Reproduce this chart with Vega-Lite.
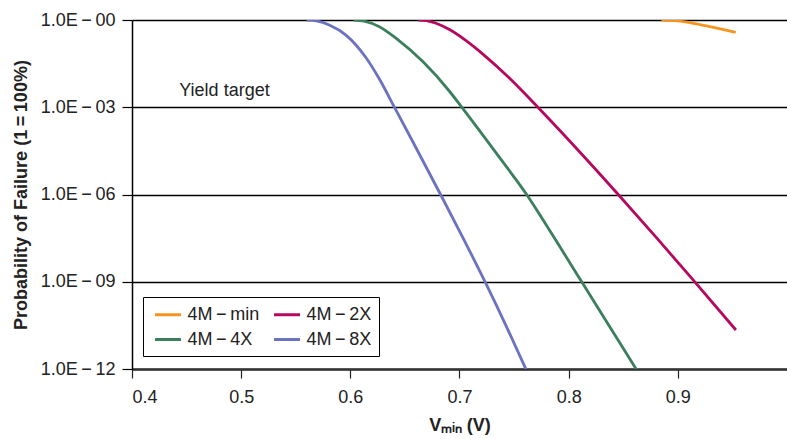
{
  "$schema": "https://vega.github.io/schema/vega-lite/v6.json",
  "width": 655,
  "height": 349,
  "autosize": {"type": "none"},
  "padding": {"left": 132, "top": 20, "right": 0, "bottom": 70},
  "background": "white",
  "config": {
    "view": {"stroke": null},
    "font": "Liberation Sans",
    "axis": {"labelFont": "Liberation Sans", "titleFont": "Liberation Sans", "labelFontSize": 18, "titleFontSize": 18, "labelColor": "#222", "titleColor": "#222", "titleFontWeight": "bold"}
  },
  "layer": [
    {
      "data": {
        "values": [
          {"series": "4M\u2009\u2212\u2009min", "v": 0.885, "p": 1},
          {"series": "4M\u2009\u2212\u2009min", "v": 0.897, "p": 0.944},
          {"series": "4M\u2009\u2212\u2009min", "v": 0.911, "p": 0.813},
          {"series": "4M\u2009\u2212\u2009min", "v": 0.9263, "p": 0.624},
          {"series": "4M\u2009\u2212\u2009min", "v": 0.94, "p": 0.484},
          {"series": "4M\u2009\u2212\u2009min", "v": 0.953, "p": 0.378},
          {"series": "4M\u2009\u2212\u20092X", "v": 0.6623, "p": 1},
          {"series": "4M\u2009\u2212\u20092X", "v": 0.6694, "p": 0.955},
          {"series": "4M\u2009\u2212\u20092X", "v": 0.6785, "p": 0.776},
          {"series": "4M\u2009\u2212\u20092X", "v": 0.6908, "p": 0.468},
          {"series": "4M\u2009\u2212\u20092X", "v": 0.706, "p": 0.195},
          {"series": "4M\u2009\u2212\u20092X", "v": 0.7214, "p": 0.0673},
          {"series": "4M\u2009\u2212\u20092X", "v": 0.7459, "p": 0.00989},
          {"series": "4M\u2009\u2212\u20092X", "v": 0.7718, "p": 0.000995},
          {"series": "4M\u2009\u2212\u20092X", "v": 0.8131, "p": 2.19e-5},
          {"series": "4M\u2009\u2212\u20092X", "v": 0.8452, "p": 1.02e-6},
          {"series": "4M\u2009\u2212\u20092X", "v": 0.881, "p": 3.09e-8},
          {"series": "4M\u2009\u2212\u20092X", "v": 0.9126, "p": 1.33e-9},
          {"series": "4M\u2009\u2212\u20092X", "v": 0.9532, "p": 2.19e-11},
          {"series": "4M\u2009\u2212\u20094X", "v": 0.603, "p": 1},
          {"series": "4M\u2009\u2212\u20094X", "v": 0.6128, "p": 0.912},
          {"series": "4M\u2009\u2212\u20094X", "v": 0.6266, "p": 0.589},
          {"series": "4M\u2009\u2212\u20094X", "v": 0.642, "p": 0.234},
          {"series": "4M\u2009\u2212\u20094X", "v": 0.6664, "p": 0.0372},
          {"series": "4M\u2009\u2212\u20094X", "v": 0.6908, "p": 0.00355},
          {"series": "4M\u2009\u2212\u20094X", "v": 0.7015, "p": 0.00107},
          {"series": "4M\u2009\u2212\u20094X", "v": 0.7306, "p": 3.8e-5},
          {"series": "4M\u2009\u2212\u20094X", "v": 0.75, "p": 3.98e-6},
          {"series": "4M\u2009\u2212\u20094X", "v": 0.7624, "p": 8.91e-7},
          {"series": "4M\u2009\u2212\u20094X", "v": 0.775, "p": 1.66e-7},
          {"series": "4M\u2009\u2212\u20094X", "v": 0.789, "p": 2.4e-8},
          {"series": "4M\u2009\u2212\u20094X", "v": 0.8131, "p": 8.51e-10},
          {"series": "4M\u2009\u2212\u20094X", "v": 0.8468, "p": 7.94e-12},
          {"series": "4M\u2009\u2212\u20094X", "v": 0.8636, "p": 7.76e-13},
          {"series": "4M\u2009\u2212\u20098X", "v": 0.56, "p": 1},
          {"series": "4M\u2009\u2212\u20098X", "v": 0.5688, "p": 0.933},
          {"series": "4M\u2009\u2212\u20098X", "v": 0.5807, "p": 0.676},
          {"series": "4M\u2009\u2212\u20098X", "v": 0.596, "p": 0.302},
          {"series": "4M\u2009\u2212\u20098X", "v": 0.6144, "p": 0.0501},
          {"series": "4M\u2009\u2212\u20098X", "v": 0.6266, "p": 0.00933},
          {"series": "4M\u2009\u2212\u20098X", "v": 0.6404, "p": 0.001},
          {"series": "4M\u2009\u2212\u20098X", "v": 0.657, "p": 6.76e-5},
          {"series": "4M\u2009\u2212\u20098X", "v": 0.6835, "p": 8.71e-7},
          {"series": "4M\u2009\u2212\u20098X", "v": 0.704, "p": 2.82e-8},
          {"series": "4M\u2009\u2212\u20098X", "v": 0.7248, "p": 7.76e-10},
          {"series": "4M\u2009\u2212\u20098X", "v": 0.743, "p": 2.88e-11},
          {"series": "4M\u2009\u2212\u20098X", "v": 0.7615, "p": 8.71e-13}
        ]
      },
      "mark": {"type": "line", "interpolate": "monotone", "strokeWidth": 2.8, "clip": true},
      "encoding": {
        "x": {
          "field": "v", "type": "quantitative",
          "scale": {"domain": [0.4, 1.0], "nice": false, "zero": false},
          "axis": {
            "values": [0.4, 0.5, 0.6, 0.7, 0.8, 0.9], "format": ".1f",
            "title": "V\u2098\u1d62\u2099 (V)",
            "domainColor": "#333", "domainWidth": 2.5,
            "tickColor": "#222", "tickWidth": 1.2, "tickSize": 9,
            "labelPadding": 10, "titlePadding": 10, "grid": false
          }
        },
        "y": {
          "field": "p", "type": "quantitative",
          "scale": {"type": "log", "domain": [1e-12, 1], "nice": false},
          "axis": {
            "values": [1e-12, 1e-9, 1e-6, 0.001, 1],
            "labelExpr": "'1.0E\u2009\u2212\u2009' + (datum.value >= 0.5 ? '00' : format(round(-log(datum.value)/LN10), '02d'))",
            "title": "Probability of Failure (1\u2009=\u2009100%)",
            "domainColor": "black", "domainWidth": 1.5,
            "tickColor": "black", "tickWidth": 1.2, "tickSize": 10,
            "labelPadding": 7, "titlePadding": 10,
            "grid": true, "gridColor": "black", "gridWidth": 1.4
          }
        },
        "color": {
          "field": "series", "type": "nominal",
          "scale": {
            "domain": ["4M\u2009\u2212\u2009min", "4M\u2009\u2212\u20092X", "4M\u2009\u2212\u20094X", "4M\u2009\u2212\u20098X"],
            "range": ["#f7941d", "#b5085e", "#3b7f5c", "#6c72c2"]
          },
          "legend": {
            "title": null, "orient": "none", "legendX": 11, "legendY": 277,
            "columns": 2, "direction": "horizontal",
            "symbolType": "M-1.5,0H1.5", "symbolSize": 300,
            "symbolStrokeWidth": 3, "symbolOffset": 7.5, "labelOffset": 9,
            "columnPadding": 8, "rowPadding": 5, "padding": 7,
            "strokeColor": "black", "fillColor": "white",
            "labelFontSize": 18, "labelColor": "#222", "labelFont": "Liberation Sans"
          }
        }
      }
    },
    {
      "data": {"values": [{"v": 0.4433, "p": 0.00249, "label": "Yield target"}]},
      "mark": {"type": "text", "align": "left", "baseline": "alphabetic", "fontSize": 18, "color": "#222", "font": "Liberation Sans"},
      "encoding": {
        "x": {"field": "v", "type": "quantitative"},
        "y": {"field": "p", "type": "quantitative"},
        "text": {"field": "label"}
      }
    }
  ]
}
